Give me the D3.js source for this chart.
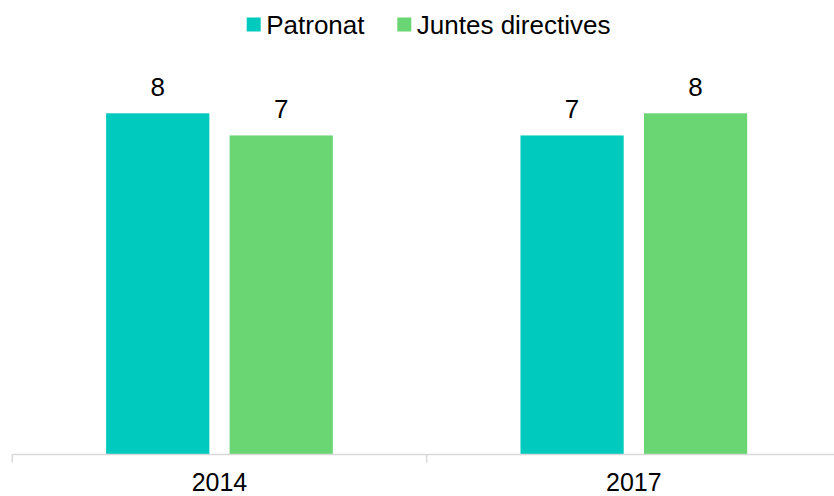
<!DOCTYPE html>
<html>
<head>
<meta charset="utf-8">
<script src="https://cdn.jsdelivr.net/npm/d3@7"></script>
<style>
  html, body { margin: 0; padding: 0; background: #ffffff; }
  svg { display: block; font-family: Arial, "Liberation Sans", sans-serif; }
</style>
</head>
<body>
<svg id="chart" width="834" height="496"></svg>
<script>
const categories = ["2014", "2017"];
const seriesNames = ["Patronat", "Juntes directives"];
const patronat = [8, 7];
const juntesDirectives = [7, 8];
const seriesColors = ["#00c9bd", "#69d573"];

const seriesValues = [patronat, juntesDirectives];

const svg = d3.select("#chart");
const W = 834, H = 496;
const plotLeft = 12.3, plotRight = 841, plotBottom = 454.5, plotTop = 100;

const x0 = d3.scaleBand().domain(categories).range([plotLeft, plotRight]).paddingInner(0).paddingOuter(0);
const x1 = d3.scaleBand().domain(seriesNames).range([0, x0.bandwidth()]).paddingInner(0.164).paddingOuter(0.76);
const y = d3.scaleLinear().domain([-7.4, 8.6]).range([plotBottom, plotTop]);

const rows = categories.map((c, i) => ({
  cat: c,
  vals: seriesNames.map((s, j) => ({ series: s, value: seriesValues[j][i], color: seriesColors[j] }))
}));

const groups = svg.append("g").selectAll("g").data(rows).join("g")
  .attr("transform", d => `translate(${x0(d.cat)},0)`);

groups.selectAll("rect").data(d => d.vals).join("rect")
  .attr("x", d => x1(d.series))
  .attr("width", x1.bandwidth())
  .attr("y", d => y(d.value))
  .attr("height", d => plotBottom - y(d.value))
  .attr("fill", d => d.color);

groups.selectAll("text.lbl").data(d => d.vals).join("text")
  .attr("class", "lbl")
  .attr("x", d => x1(d.series) + x1.bandwidth() / 2)
  .attr("y", d => y(d.value) - 17)
  .attr("text-anchor", "middle")
  .attr("font-size", 26)
  .attr("fill", "#000")
  .text(d => d.value);

// X axis
const axis = svg.append("g").attr("transform", `translate(0,${plotBottom})`)
  .call(d3.axisBottom(x0).tickSize(0).tickPadding(0));
axis.select(".domain").remove();
axis.selectAll(".tick line").remove();
axis.append("line").attr("x1", plotLeft).attr("x2", W).attr("y1", 0).attr("y2", 0)
  .attr("stroke", "#d9d9d9").attr("stroke-width", 1.5);
const boundaries = categories.map(c => x0(c));
axis.selectAll("line.sep").data(boundaries).join("line")
  .attr("class", "sep")
  .attr("x1", d => d).attr("x2", d => d)
  .attr("y1", 0).attr("y2", 8)
  .attr("stroke", "#d9d9d9").attr("stroke-width", 1.5);
axis.selectAll(".tick text")
  .attr("font-size", 25)
  .attr("font-family", "Arial, 'Liberation Sans', sans-serif")
  .attr("fill", "#000")
  .attr("dy", null)
  .attr("y", 36);

// Legend
const legendItems = [
  { name: seriesNames[0], color: seriesColors[0], x: 246.7 },
  { name: seriesNames[1], color: seriesColors[1], x: 397.3 }
];
const legend = svg.append("g");
const li = legend.selectAll("g").data(legendItems).join("g")
  .attr("transform", d => `translate(${d.x},0)`);
li.append("rect").attr("x", 0).attr("y", 17.5).attr("width", 14).attr("height", 14)
  .attr("fill", d => d.color);
li.append("text").attr("x", 19.5).attr("y", 33.5)
  .attr("font-size", 26).attr("fill", "#000")
  .text(d => d.name);
</script>
</body>
</html>
